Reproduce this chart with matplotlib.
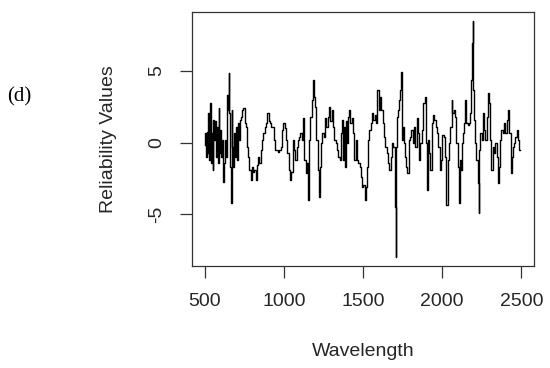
import matplotlib
matplotlib.use("Agg")
import matplotlib.pyplot as plt

# wavelength (nm) and reliability values
wavelength = [
    500, 506, 510, 517, 521, 527, 531, 538, 544, 548, 552, 557, 563, 569, 573, 580,
    586, 590, 596, 601, 607, 613, 617, 624, 630, 636, 642, 649, 653, 657, 661, 668,
    672, 678, 682, 688, 695, 699, 705, 711, 718, 724, 732, 741, 749, 755, 762, 770,
    778, 787, 793, 802, 810, 818, 827, 833, 841, 850, 858, 866, 875, 883, 892, 900,
    908, 917, 925, 933, 942, 950, 959, 967, 975, 984, 992, 1000, 1009, 1017, 1026, 1034,
    1042, 1051, 1059, 1067, 1076, 1084, 1093, 1101, 1109, 1118, 1126, 1134, 1143, 1151, 1158, 1164,
    1172, 1181, 1187, 1193, 1201, 1210, 1218, 1225, 1231, 1239, 1248, 1256, 1264, 1273, 1281, 1289,
    1298, 1306, 1315, 1323, 1331, 1340, 1348, 1356, 1365, 1371, 1377, 1384, 1390, 1396, 1405, 1411,
    1417, 1423, 1432, 1440, 1449, 1457, 1465, 1474, 1482, 1490, 1499, 1507, 1516, 1522, 1528, 1537,
    1545, 1553, 1562, 1570, 1578, 1587, 1595, 1604, 1612, 1620, 1629, 1637, 1645, 1654, 1662, 1671,
    1679, 1687, 1696, 1704, 1708, 1712, 1719, 1725, 1731, 1738, 1742, 1748, 1754, 1761, 1767, 1775,
    1784, 1792, 1800, 1809, 1817, 1826, 1834, 1842, 1851, 1859, 1867, 1876, 1884, 1893, 1901, 1907,
    1913, 1922, 1930, 1939, 1947, 1955, 1964, 1972, 1980, 1989, 1997, 2006, 2014, 2022, 2031, 2039,
    2047, 2056, 2062, 2068, 2077, 2085, 2094, 2102, 2108, 2115, 2123, 2129, 2135, 2142, 2148, 2156,
    2165, 2173, 2177, 2182, 2186, 2190, 2194, 2198, 2205, 2211, 2219, 2228, 2232, 2238, 2244, 2253,
    2261, 2269, 2278, 2286, 2292, 2299, 2307, 2316, 2324, 2332, 2341, 2349, 2355, 2362, 2370, 2378,
    2387, 2395, 2403, 2412, 2420, 2429, 2435, 2441, 2450, 2458, 2467, 2475, 2483, 2489,
]
reliability = [
    -0.16, 0.65, -0.98, 0.77, -0.74, 2.05, -1.21, 2.74, -1.44, 0.65, -1.91, 1.58, 0.19, 1.47, -0.98, 1.12,
    -1.44, 2.40, -0.74, 0.88, -0.98, 0.19, -2.72, -1.44, 0.19, -0.98, 3.33, 2.28, 4.84, 2.05, -1.67, -4.23,
    2.28, -0.28, -1.67, 0.65, -0.98, 1.12, -1.21, 1.35, 0.19, 1.58, 1.81, 2.28, 2.40, 1.35, 1.12, -0.28,
    -0.98, -1.91, -2.60, -1.67, -2.02, -1.91, -2.60, -1.56, -0.98, -1.44, -0.51, 0.19, 0.65, 1.12, 1.35, 2.05,
    1.47, 1.35, 1.12, 1.12, 0.19, -0.51, -0.51, -0.63, -0.51, -0.28, 0.88, 1.35, 1.00, 0.19, -0.74, -1.91,
    -2.60, -2.02, 0.19, -0.51, -1.21, -0.28, 0.19, 0.42, 0.65, 0.19, 1.70, -1.21, -2.14, -1.44, -4.00, 0.19,
    1.81, 2.98, 4.37, 3.21, 2.51, 0.19, -1.91, -3.77, -1.67, -0.05, 0.65, 0.42, 1.70, 1.12, 1.81, 2.51,
    1.47, 2.28, 1.12, 0.19, -0.05, -0.51, -0.98, -1.21, 0.65, 1.58, -1.21, 1.12, -1.67, 1.47, -0.05, 1.81,
    2.28, 1.35, 1.70, 0.65, -1.21, 0.19, -1.21, -1.44, -1.67, -2.37, -3.07, -2.95, -4.00, -3.07, -1.67, 0.19,
    0.88, 1.35, 2.05, 1.58, 1.93, 1.35, 3.67, 2.28, 3.21, 2.28, 1.35, 0.42, -0.28, -0.74, -1.44, -1.91,
    -0.98, -0.05, -0.28, -4.47, -7.95, -0.28, 1.81, 2.28, 2.98, 3.67, 4.95, 0.19, 1.12, -0.05, -0.98, -1.67,
    -2.14, 0.19, 0.42, 0.88, -0.05, 1.12, -0.28, 1.70, 0.65, -1.21, -0.05, 0.88, 2.74, 3.21, -0.05, -3.30,
    0.19, -0.74, -1.91, 1.35, 1.93, 1.58, 1.12, 0.65, -0.28, -1.91, -1.21, 0.53, 0.42, -0.98, -4.35, -1.21,
    -0.05, 1.12, 2.98, 2.05, 2.28, 1.81, -0.05, -1.67, -4.23, -1.21, -1.91, -0.05, 0.65, 1.35, 2.98, 1.35,
    1.23, 1.35, 2.05, 3.67, 4.37, 6.93, 8.44, 3.67, 1.58, -0.05, -1.21, -2.84, -4.93, -0.51, 0.65, 0.19,
    2.05, 0.88, 0.19, 1.81, 3.44, 2.74, 0.19, -1.91, -0.28, -0.74, -0.05, -0.98, -2.84, -1.67, 0.19, 0.88,
    0.65, 1.35, 0.65, 1.58, 2.28, 0.65, -2.14, -0.98, -0.28, -0.05, 0.42, 0.88, 0.19, -0.51,
]
x_ticks = [500, 1000, 1500, 2000, 2500]
y_ticks = [-5, 0, 5]

plt.rcParams['font.family'] = ['Liberation Sans', 'DejaVu Sans']
text_col = '#262626'

fig = plt.figure(figsize=(5.5, 3.68), dpi=100)
ax = fig.add_axes([192 / 550, 1 - 266 / 368, (534 - 192) / 550, (266 - 12) / 368])

ax.plot(wavelength, reliability, color='black', lw=1.0, drawstyle='steps-mid')

# R style: 4% padding on both axes
ax.set_xlim(420, 2580)
ax.set_ylim(-8.6, 9.1)
ax.set_xticks(x_ticks)
ax.set_yticks(y_ticks)
ax.set_xticklabels([str(t) for t in x_ticks])
ax.set_yticklabels([str(t) for t in y_ticks], rotation=90, va='center')

ax.tick_params(axis='both', length=8.6, width=0.9, color='#333333',
               labelsize=14, labelcolor=text_col, pad=10.5)
for s in ax.spines.values():
    s.set_linewidth(0.9)
    s.set_color('#333333')

ax.set_xlabel('Wavelength', fontsize=14, color=text_col, va='center')
ax.xaxis.set_label_coords(0.5, -(352 - 266) / 254)
ax.set_ylabel('Reliability Values', fontsize=14, color=text_col, va='center')
ax.yaxis.set_label_coords(-(192 - 108) / 342, 0.5)

fig.text(19 / 550, 1 - 97 / 368, '(d)', family='Liberation Serif', fontsize=15,
         ha='center', va='center', color='black')

fig.savefig('out.png', dpi=100)
